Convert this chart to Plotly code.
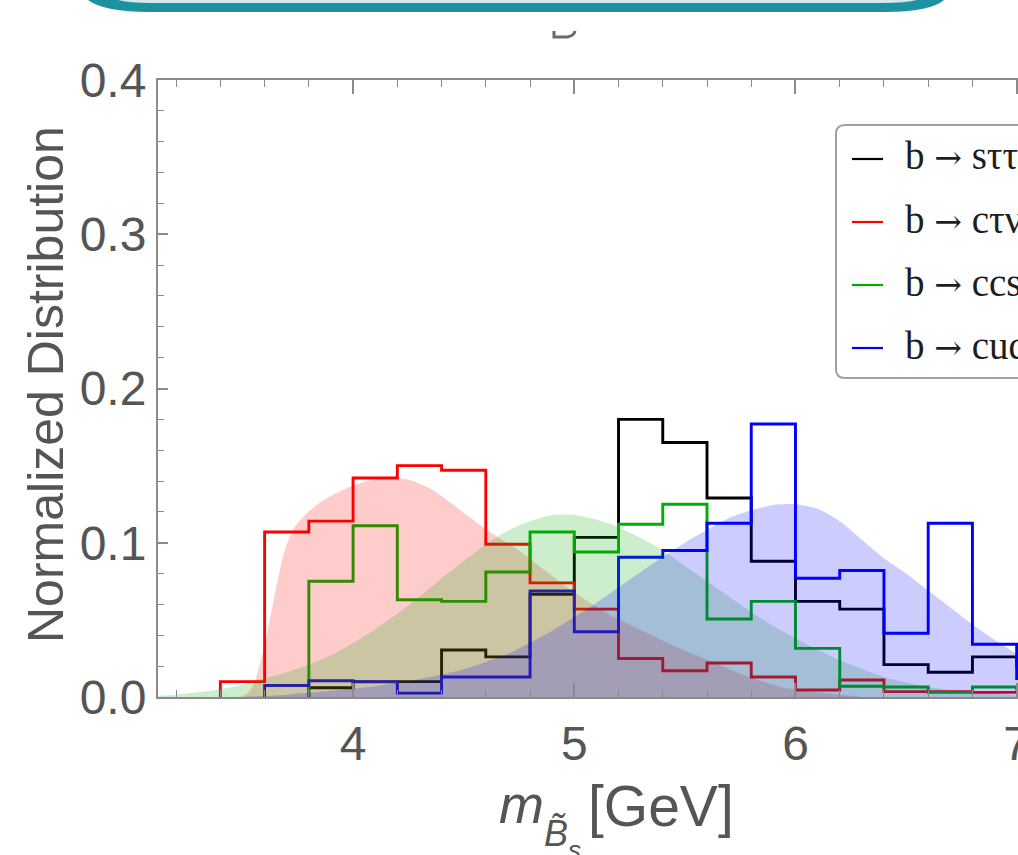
import plotly.graph_objects as go

# ---- histogram data (bin width 0.2 GeV) ----
bin_edges = [3.4, 3.6, 3.8, 4.0, 4.2, 4.4, 4.6, 4.8, 5.0, 5.2, 5.4, 5.6, 5.8,
             6.0, 6.2, 6.4, 6.6, 6.8, 7.0, 7.2]

hist_s_tautau = [0.0, 0.0, 0.006, 0.0098, 0.0100, 0.0305, 0.026, 0.0666, 0.1035,
                 0.180, 0.165, 0.129, 0.088, 0.062, 0.057, 0.021, 0.016, 0.026, 0.020]
hist_c_taunu = [0.010, 0.107, 0.114, 0.142, 0.150, 0.147, 0.099, 0.074, 0.057,
                0.025, 0.017, 0.022, 0.013, 0.0045, 0.011, 0.0035, 0.0035, 0.003, 0.003]
hist_ccs = [0.0, 0.0, 0.075, 0.111, 0.063, 0.062, 0.081, 0.107, 0.094,
            0.112, 0.125, 0.0506, 0.062, 0.0315, 0.007, 0.0065, 0.003, 0.0065, 0.005]
hist_cud = [0.0, 0.0075, 0.0105, 0.0100, 0.0025, 0.013, 0.013, 0.0687, 0.0423,
            0.0906, 0.095, 0.1126, 0.177, 0.077, 0.082, 0.0413, 0.1126, 0.0342, 0.012]

# ---- smooth fitted densities ----
fit_c_taunu_x = [3.48, 3.52, 3.55, 3.58, 3.61, 3.64, 3.67, 3.70, 3.74, 3.79, 3.86,
                 3.95, 4.05, 4.15, 4.25, 4.35, 4.45, 4.55, 4.65, 4.75, 4.85, 4.95,
                 5.05, 5.15, 5.25, 5.35, 5.45, 5.55, 5.65, 5.75, 5.85, 5.95, 6.10, 6.30]
fit_c_taunu_y = [0.000, 0.002, 0.008, 0.022, 0.040, 0.062, 0.083, 0.099, 0.111, 0.119,
                 0.127, 0.134, 0.1395, 0.1425, 0.141, 0.135, 0.125, 0.114, 0.104, 0.095,
                 0.084, 0.073, 0.063, 0.054, 0.047, 0.040, 0.033, 0.027, 0.021, 0.015,
                 0.010, 0.006, 0.003, 0.0]

fit_ccs_x = [3.10, 3.20, 3.30, 3.40, 3.50, 3.60, 3.70, 3.80, 3.90, 4.00, 4.10, 4.20,
             4.30, 4.40, 4.50, 4.60, 4.70, 4.80, 4.90, 5.00, 5.10, 5.20, 5.30, 5.40,
             5.50, 5.60, 5.70, 5.80, 5.90, 6.00, 6.20, 6.40, 6.60, 6.80, 7.00]
fit_ccs_y = [0.0005, 0.0015, 0.003, 0.005, 0.008, 0.012, 0.016, 0.021, 0.027, 0.035,
             0.044, 0.054, 0.065, 0.077, 0.088, 0.099, 0.108, 0.114, 0.118, 0.118,
             0.115, 0.110, 0.103, 0.095, 0.085, 0.075, 0.065, 0.055, 0.046, 0.038,
             0.024, 0.013, 0.0065, 0.003, 0.001]

fit_cud_x = [3.50, 3.70, 3.90, 4.10, 4.30, 4.50, 4.70, 4.90, 5.10, 5.30, 5.50, 5.70,
             5.80, 5.90, 6.00, 6.10, 6.20, 6.30, 6.40, 6.50, 6.60, 6.70, 6.80, 6.90,
             7.00, 7.10]
fit_cud_y = [0.000, 0.0015, 0.004, 0.007, 0.0115, 0.018, 0.028, 0.043, 0.061, 0.081,
             0.100, 0.116, 0.121, 0.1245, 0.125, 0.122, 0.114, 0.102, 0.090, 0.080,
             0.069, 0.058, 0.047, 0.037, 0.028, 0.020]

legend_labels = ["sττ", "cτν", "ccs", "cud"]

BLACK = "#000000"
RED = "#ff0000"
GREEN = "#00ad00"
BLUE = "#0000ff"

# page geometry of the plotting frame (pixels)
L, R, T, B = 158, 1018, 80, 697
W, H = 1018, 855


def px(x):
    return (x - L) / (R - L)


def py(y):
    return (B - y) / (B - T)


def step_xy(values):
    i0 = next(i for i, v in enumerate(values) if v > 0)
    xs = [bin_edges[i0]] + bin_edges[i0:]
    ys = [0] + values[i0:] + [0]
    return xs, ys


fig = go.Figure()

for vals, col in [(hist_s_tautau, BLACK), (hist_c_taunu, RED),
                  (hist_ccs, GREEN), (hist_cud, BLUE)]:
    xs, ys = step_xy(vals)
    fig.add_trace(go.Scatter(x=xs, y=ys, mode="lines",
                             line=dict(color=col, width=2.9, shape="hv"),
                             showlegend=False, hoverinfo="skip"))

for cx, cy, fc in [(fit_c_taunu_x, fit_c_taunu_y, "rgba(255,0,0,0.2)"),
                   (fit_ccs_x, fit_ccs_y, "rgba(0,170,0,0.2)"),
                   (fit_cud_x, fit_cud_y, "rgba(0,0,255,0.2)")]:
    fig.add_trace(go.Scatter(x=cx, y=cy, mode="lines",
                             line=dict(width=0, shape="spline", smoothing=0.6),
                             fill="tozeroy", fillcolor=fc,
                             showlegend=False, hoverinfo="skip"))

AX = "#8a8a8a"
TICKFONT = dict(family="Liberation Sans", size=48, color="#555555")

fig.update_xaxes(range=[3.118, 7.006], tickmode="linear", tick0=0, dtick=1,
                 ticks="inside", ticklen=14, tickwidth=1.5, tickcolor=AX,
                 showline=True, linecolor=AX, linewidth=2, mirror="ticks",
                 showgrid=False, zeroline=False, tickfont=TICKFONT,
                 ticklabelstandoff=3, ticklabeloverflow="allow", automargin=False,
                 minor=dict(ticks="inside", ticklen=7, tickwidth=1.2,
                            tickcolor=AX, dtick=0.2, tick0=0, showgrid=False))
fig.update_yaxes(range=[0, 0.4], tickmode="linear", tick0=0, dtick=0.1,
                 tickformat=".1f", ticks="inside", ticklen=10, tickwidth=1.5,
                 tickcolor=AX, showline=True, linecolor=AX, linewidth=2,
                 mirror=False, showgrid=False, zeroline=False, tickfont=TICKFONT,
                 automargin=False,
                 minor=dict(ticks="inside", ticklen=6, tickwidth=1.2,
                            tickcolor=AX, dtick=0.02, tick0=0, showgrid=False))

shapes = []


# legend frame with rounded corners
def rounded_rect(x0, y0, x1, y1, r):
    pts = [
        f"M{px(x0 + r)},{py(y0)}", f"L{px(x1 - r)},{py(y0)}",
        f"Q{px(x1)},{py(y0)} {px(x1)},{py(y0 + r)}",
        f"L{px(x1)},{py(y1 - r)}",
        f"Q{px(x1)},{py(y1)} {px(x1 - r)},{py(y1)}",
        f"L{px(x0 + r)},{py(y1)}",
        f"Q{px(x0)},{py(y1)} {px(x0)},{py(y1 - r)}",
        f"L{px(x0)},{py(y0 + r)}",
        f"Q{px(x0)},{py(y0)} {px(x0 + r)},{py(y0)}", "Z"]
    return " ".join(pts)


shapes.append(dict(type="path", xref="paper", yref="paper",
                   path=rounded_rect(836, 125, 1080, 378, 9),
                   fillcolor="white", line=dict(color="#a0a0a0", width=2),
                   layer="above"))

legend_y = [159, 222, 285, 348]
annotations = []
for yy, col, lab in zip(legend_y, [BLACK, RED, GREEN, BLUE], legend_labels):
    shapes.append(dict(type="line", xref="paper", yref="paper",
                       x0=px(852), x1=px(883), y0=py(yy), y1=py(yy),
                       line=dict(color=col, width=2.2), layer="above"))
    annotations.append(dict(
        xref="paper", yref="paper", x=px(903), y=py(yy - 3),
        xanchor="left", yanchor="middle", showarrow=False,
        text=("b <span style='font-family:DejaVu Serif;font-size:33px'>→</span> "
              + lab),
        font=dict(family="Liberation Serif", size=39, color="#1e1e1e")))

# banner strip along the top edge
shapes.append(dict(type="path", xref="paper", yref="paper",
                   path=(f"M{px(88)},{py(0)} Q{px(104)},{py(12)} {px(150)},{py(12)} "
                         f"L{px(885)},{py(12)} Q{px(930)},{py(12)} {px(944)},{py(0)} Z"),
                   fillcolor="#1e91a1", line=dict(width=0), layer="above"))
shapes.append(dict(type="path", xref="paper", yref="paper",
                   path=(f"M{px(118)},{py(0)} Q{px(128)},{py(3)} {px(152)},{py(3)} "
                         f"L{px(882)},{py(3)} Q{px(906)},{py(3)} {px(917)},{py(0)} Z"),
                   fillcolor="#d4e9ee", line=dict(width=0), layer="above"))
# lower stroke of the title glyph below the banner
shapes.append(dict(type="path", xref="paper", yref="paper",
                   path=(f"M{px(554)},{py(31)} L{px(554)},{py(37)} L{px(567)},{py(37)} "
                         f"Q{px(574)},{py(36)} {px(575)},{py(31)}"),
                   line=dict(color="#6a6a6a", width=3), layer="above"))

# axis titles
annotations.append(dict(xref="paper", yref="paper", x=px(46), y=py(385),
                        xanchor="center", yanchor="middle", textangle=-90,
                        showarrow=False, text="Normalized Distribution",
                        font=dict(family="Liberation Sans", size=50, color="#555555")))
annotations.append(dict(xref="paper", yref="paper", x=px(497), y=py(804),
                        xanchor="left", yanchor="middle", showarrow=False,
                        text="<i>m</i>",
                        font=dict(family="Liberation Sans", size=54, color="#555555")))
annotations.append(dict(xref="paper", yref="paper", x=px(542), y=py(833),
                        xanchor="left", yanchor="middle", showarrow=False,
                        text="<i>B\u0303</i>",
                        font=dict(family="Liberation Sans", size=36, color="#555555")))
annotations.append(dict(xref="paper", yref="paper", x=px(566), y=py(850),
                        xanchor="left", yanchor="middle", showarrow=False,
                        text="<i>s</i>",
                        font=dict(family="Liberation Sans", size=26, color="#555555")))
annotations.append(dict(xref="paper", yref="paper", x=px(586), y=py(806),
                        xanchor="left", yanchor="middle", showarrow=False,
                        text="[GeV]",
                        font=dict(family="Liberation Sans", size=57, color="#555555")))

fig.update_layout(width=W, height=H,
                  margin=dict(l=L, r=W - R, t=T, b=H - B, pad=0),
                  paper_bgcolor="white", plot_bgcolor="white",
                  showlegend=False, shapes=shapes, annotations=annotations)

fig.write_html("out.html")
